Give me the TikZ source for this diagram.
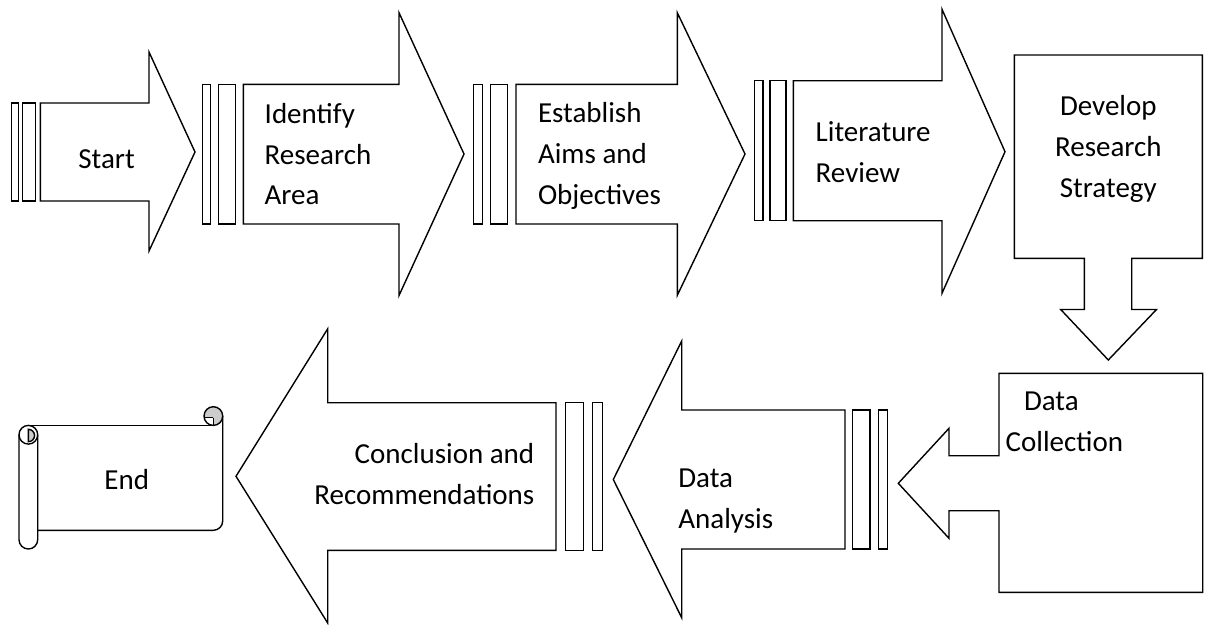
\documentclass[tikz,border=0pt]{standalone}
\usepackage{fontspec}
\setmainfont{Carlito}
% multi-line label whose baseline is the first line's baseline
\newcommand{\blk}[2]{\begin{tabular}[t]{@{}#1@{}}#2\end{tabular}}

\begin{document}
\begin{tikzpicture}[x=1pt, y=-1pt, line width=1.4pt, line join=miter,
  shp/.style={draw=black, fill=white},
  lbl/.style={inner sep=0pt, font=\fontsize{29}{40.7}\selectfont},
  rollshade/.style={fill=gray!40}]
\fill[white] (0,0) rectangle (1210,624);
\useasboundingbox (0,0) rectangle (1210,624);

% ---------- top row: striped right arrows ----------
% Start
\draw[shp] (11.7,103) rectangle (18.3,201);
\draw[shp] (22.7,103) rectangle (35.7,201);
\draw[shp] (40.3,103) -- (149,103) -- (149,52) -- (195,152) -- (149,251)
  -- (149,201) -- (40.3,201) -- cycle;
% Identify research area
\draw[shp] (202.3,84.3) rectangle (210.7,224);
\draw[shp] (218.7,84.3) rectangle (235.7,224);
\draw[shp] (243.3,84.3) -- (399,84.3) -- (399,12.7) -- (464,154) -- (399,295.5)
  -- (399,224) -- (243.3,224) -- cycle;
% Aims and objectives
\draw[shp] (473.3,84.3) rectangle (482.3,224);
\draw[shp] (490.3,84.3) rectangle (507.7,224);
\draw[shp] (516,84.3) -- (677.3,84.3) -- (677.3,12.7) -- (745,154) -- (677.3,295.3)
  -- (677.3,224) -- (516,224) -- cycle;
% Literature review
\draw[shp] (754.3,80.7) rectangle (763,220.7);
\draw[shp] (770,80.7) rectangle (786,220.7);
\draw[shp] (793.3,80.7) -- (942,80.7) -- (942,9.3) -- (1005,151.7) -- (942,293.3)
  -- (942,220.7) -- (793.3,220.7) -- cycle;

% ---------- right column: down and left arrow callouts ----------
\draw[shp] (1014.3,55) -- (1202.3,55) -- (1202.3,258.3) -- (1131.7,258.3)
  -- (1131.7,309.5) -- (1156.5,309.5) -- (1108.3,360) -- (1060.7,309.5) -- (1084.3,309.5)
  -- (1084.3,258.3) -- (1014.3,258.3) -- cycle;
\draw[shp] (999,373.3) -- (1202.7,373.3) -- (1202.7,592.3) -- (999,592.3)
  -- (999,510.7) -- (949,510.7) -- (949,538.3) -- (898.3,483.3) -- (949,428.3)
  -- (949,455.7) -- (999,455.7) -- cycle;

% ---------- bottom row: striped left arrows ----------
% Data analysis
\draw[shp] (878.7,410) rectangle (887.3,549);
\draw[shp] (852.3,410) rectangle (870,549);
\draw[shp] (845,410) -- (681.7,410) -- (681.7,341) -- (613.3,479.5) -- (681.7,617.7)
  -- (681.7,549) -- (845,549) -- cycle;
% Conclusion and recommendations
\draw[shp] (592.7,402.7) rectangle (602.3,550.3);
\draw[shp] (565.3,402.7) rectangle (583.3,550.3);
\draw[shp] (556,402.7) -- (327.7,402.7) -- (327.7,328.8) -- (236,476.3) -- (327.7,623)
  -- (327.7,550.3) -- (556,550.3) -- cycle;

% ---------- end scroll ----------
\fill[white] (37.7,425.4) rectangle (222.7,530.3);
\draw (28.35,425.4) -- (213.35,425.4);
\draw (222.7,416.05) -- (222.7,520.95) arc[start angle=0, end angle=90, radius=9.35]
  -- (37.7,530.3);
% top right curl
\fill[rollshade] (213.35,416.05) circle[radius=9.35];
\fill[white] (213.35,425.4) -- (213.35,417.6) -- (204,417.6)
  arc[start angle=170, end angle=90, radius=9.35] -- cycle;
\draw (213.35,416.05) circle[radius=9.35];
\draw (213.35,425.4) -- (213.35,417.6);
\draw[line width=0.6pt] (213.35,417.6) -- (204.3,417.6);
% left roll
\draw[shp] (19,434.75) -- (19,539.65) arc[start angle=180, end angle=0, radius=9.35]
  -- (37.7,434.75);
\draw[shp] (28.35,434.75) circle[radius=9.35];
\draw[rollshade, draw=black] (28.35,429.3) arc[start angle=-90, end angle=90, radius=6.2]
  -- cycle;

% ---------- labels ----------
\node[lbl, anchor=base west] (tStart) at (77.7,168.3) {Start};
\node[lbl, anchor=base west] (tIdentify) at (264,123.3) {\blk{l}{Identify\\Research\\Area}};
\node[lbl, anchor=base west] (tAims) at (537.3,122.7) {\blk{l}{Establish\\Aims and\\Objectives}};
\node[lbl, anchor=base west] (tLit) at (815,141.7) {\blk{l}{Literature\\Review}};
\node[lbl, anchor=base] (tStrategy) at (1108.3,115.7) {\blk{c}{Develop\\Research\\Strategy}};
\node[lbl, anchor=base west] (tCollect) at (1005,410.7) {\blk{l}{\hspace{18.3pt}Data\\Collection}};
\node[lbl, anchor=base west] (tAnalysis) at (677.7,487.7) {\blk{l}{Data\\Analysis}};
\node[lbl, anchor=base east] (tConclusion) at (535,463.3) {\blk{r}{Conclusion and\\Recommendations}};
\node[lbl, anchor=base west] (tEnd) at (103.7,489.3) {End};
\end{tikzpicture}
\end{document}
